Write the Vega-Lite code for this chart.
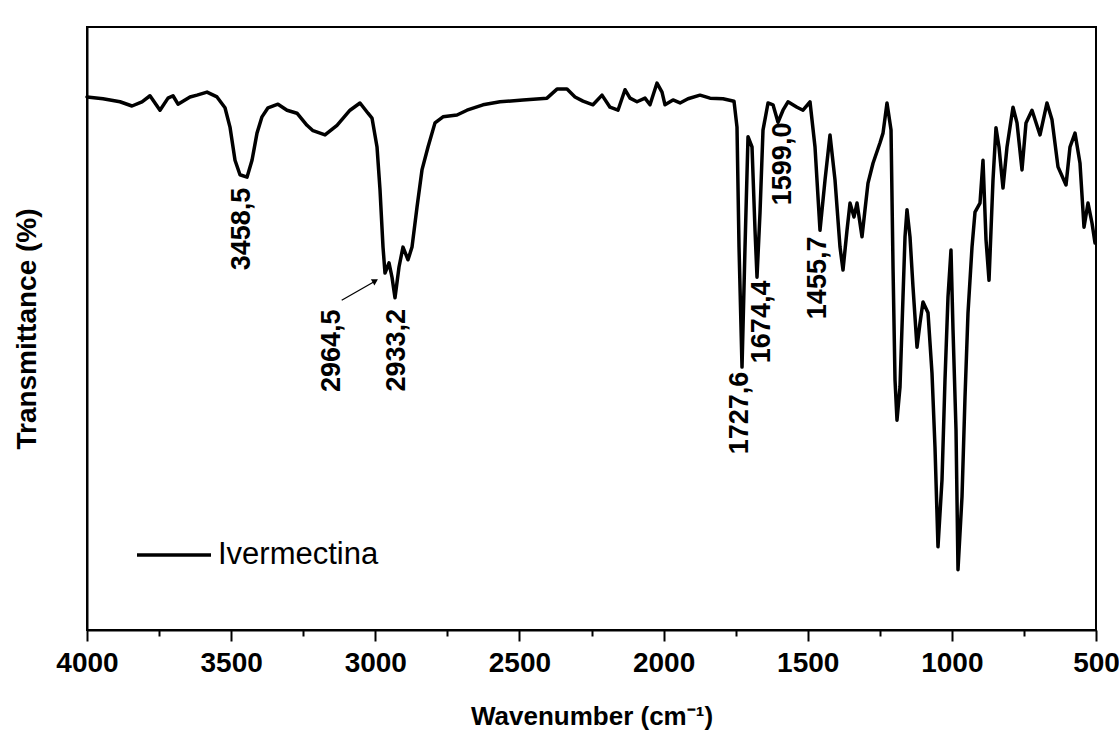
{
  "$schema": "https://vega.github.io/schema/vega-lite/v6.json",
  "width": 1009,
  "height": 603,
  "autosize": {"type": "none"},
  "padding": {"left": 87, "top": 27, "right": 23, "bottom": 112},
  "background": "white",
  "config": {
    "view": {"stroke": "black", "strokeWidth": 2},
    "font": "Liberation Sans"
  },
  "datasets": {
    "spectrum": [
      {"wavenumber": 4000, "transmittance": 88.4},
      {"wavenumber": 3944.5, "transmittance": 88.1},
      {"wavenumber": 3885.5, "transmittance": 87.6},
      {"wavenumber": 3843.9, "transmittance": 86.9},
      {"wavenumber": 3809.2, "transmittance": 87.6},
      {"wavenumber": 3781.5, "transmittance": 88.6},
      {"wavenumber": 3746.8, "transmittance": 86.2},
      {"wavenumber": 3719.0, "transmittance": 88.2},
      {"wavenumber": 3701.7, "transmittance": 88.6},
      {"wavenumber": 3684.3, "transmittance": 87.2},
      {"wavenumber": 3642.7, "transmittance": 88.4},
      {"wavenumber": 3618.4, "transmittance": 88.7},
      {"wavenumber": 3583.7, "transmittance": 89.2},
      {"wavenumber": 3549.1, "transmittance": 88.4},
      {"wavenumber": 3521.3, "transmittance": 86.6},
      {"wavenumber": 3504.0, "transmittance": 83.4},
      {"wavenumber": 3486.6, "transmittance": 77.9},
      {"wavenumber": 3469.3, "transmittance": 75.5},
      {"wavenumber": 3445.0, "transmittance": 75.1},
      {"wavenumber": 3427.6, "transmittance": 77.9},
      {"wavenumber": 3410.3, "transmittance": 82.4},
      {"wavenumber": 3393.0, "transmittance": 85.1},
      {"wavenumber": 3372.1, "transmittance": 86.6},
      {"wavenumber": 3337.5, "transmittance": 87.2},
      {"wavenumber": 3306.2, "transmittance": 86.2},
      {"wavenumber": 3271.6, "transmittance": 85.7},
      {"wavenumber": 3236.9, "transmittance": 83.7},
      {"wavenumber": 3216.0, "transmittance": 82.8},
      {"wavenumber": 3174.4, "transmittance": 82.1},
      {"wavenumber": 3132.8, "transmittance": 83.7},
      {"wavenumber": 3087.7, "transmittance": 86.2},
      {"wavenumber": 3053.0, "transmittance": 87.4},
      {"wavenumber": 3025.3, "transmittance": 85.7},
      {"wavenumber": 3011.4, "transmittance": 84.9},
      {"wavenumber": 2994.0, "transmittance": 80.1},
      {"wavenumber": 2983.6, "transmittance": 73.0},
      {"wavenumber": 2973.2, "transmittance": 63.5},
      {"wavenumber": 2966.3, "transmittance": 59.2},
      {"wavenumber": 2952.4, "transmittance": 60.9},
      {"wavenumber": 2942.0, "transmittance": 58.5},
      {"wavenumber": 2931.6, "transmittance": 55.1},
      {"wavenumber": 2917.7, "transmittance": 60.2},
      {"wavenumber": 2903.9, "transmittance": 63.5},
      {"wavenumber": 2886.5, "transmittance": 61.4},
      {"wavenumber": 2872.6, "transmittance": 63.5},
      {"wavenumber": 2855.3, "transmittance": 70.1},
      {"wavenumber": 2838.0, "transmittance": 76.3},
      {"wavenumber": 2817.1, "transmittance": 80.1},
      {"wavenumber": 2792.9, "transmittance": 84.1},
      {"wavenumber": 2765.1, "transmittance": 85.1},
      {"wavenumber": 2716.5, "transmittance": 85.4},
      {"wavenumber": 2681.9, "transmittance": 86.2},
      {"wavenumber": 2626.4, "transmittance": 87.1},
      {"wavenumber": 2567.4, "transmittance": 87.6},
      {"wavenumber": 2487.6, "transmittance": 87.9},
      {"wavenumber": 2404.4, "transmittance": 88.2},
      {"wavenumber": 2369.7, "transmittance": 89.7},
      {"wavenumber": 2335.0, "transmittance": 89.7},
      {"wavenumber": 2307.2, "transmittance": 88.4},
      {"wavenumber": 2279.5, "transmittance": 87.7},
      {"wavenumber": 2244.8, "transmittance": 87.1},
      {"wavenumber": 2213.6, "transmittance": 88.7},
      {"wavenumber": 2185.8, "transmittance": 86.7},
      {"wavenumber": 2158.1, "transmittance": 86.2},
      {"wavenumber": 2133.8, "transmittance": 89.6},
      {"wavenumber": 2116.4, "transmittance": 88.2},
      {"wavenumber": 2092.2, "transmittance": 87.6},
      {"wavenumber": 2064.4, "transmittance": 88.2},
      {"wavenumber": 2047.1, "transmittance": 87.1},
      {"wavenumber": 2022.8, "transmittance": 90.7},
      {"wavenumber": 2005.4, "transmittance": 89.2},
      {"wavenumber": 1995.0, "transmittance": 87.1},
      {"wavenumber": 1967.3, "transmittance": 87.9},
      {"wavenumber": 1943.0, "transmittance": 87.4},
      {"wavenumber": 1915.2, "transmittance": 88.1},
      {"wavenumber": 1873.6, "transmittance": 88.7},
      {"wavenumber": 1838.9, "transmittance": 88.2},
      {"wavenumber": 1793.8, "transmittance": 88.1},
      {"wavenumber": 1755.7, "transmittance": 87.7},
      {"wavenumber": 1745.3, "transmittance": 83.4},
      {"wavenumber": 1738.3, "transmittance": 63.5},
      {"wavenumber": 1727.9, "transmittance": 43.6},
      {"wavenumber": 1717.5, "transmittance": 63.5},
      {"wavenumber": 1707.1, "transmittance": 81.8},
      {"wavenumber": 1693.2, "transmittance": 80.1},
      {"wavenumber": 1682.8, "transmittance": 66.3},
      {"wavenumber": 1675.9, "transmittance": 58.5},
      {"wavenumber": 1665.5, "transmittance": 69.2},
      {"wavenumber": 1655.1, "transmittance": 82.9},
      {"wavenumber": 1637.7, "transmittance": 87.4},
      {"wavenumber": 1620.4, "transmittance": 87.1},
      {"wavenumber": 1603.0, "transmittance": 84.2},
      {"wavenumber": 1585.7, "transmittance": 86.2},
      {"wavenumber": 1568.4, "transmittance": 87.6},
      {"wavenumber": 1537.2, "transmittance": 86.7},
      {"wavenumber": 1516.3, "transmittance": 86.2},
      {"wavenumber": 1492.1, "transmittance": 87.6},
      {"wavenumber": 1474.7, "transmittance": 80.1},
      {"wavenumber": 1457.4, "transmittance": 66.3},
      {"wavenumber": 1440.0, "transmittance": 74.6},
      {"wavenumber": 1422.7, "transmittance": 82.1},
      {"wavenumber": 1405.3, "transmittance": 74.6},
      {"wavenumber": 1388.0, "transmittance": 63.5},
      {"wavenumber": 1377.6, "transmittance": 59.7},
      {"wavenumber": 1363.7, "transmittance": 66.3},
      {"wavenumber": 1353.3, "transmittance": 70.8},
      {"wavenumber": 1339.4, "transmittance": 68.5},
      {"wavenumber": 1329.0, "transmittance": 70.8},
      {"wavenumber": 1311.7, "transmittance": 65.2},
      {"wavenumber": 1301.3, "transmittance": 69.7},
      {"wavenumber": 1290.9, "transmittance": 74.1},
      {"wavenumber": 1273.5, "transmittance": 77.4},
      {"wavenumber": 1249.2, "transmittance": 80.8},
      {"wavenumber": 1238.8, "transmittance": 82.4},
      {"wavenumber": 1225.0, "transmittance": 87.4},
      {"wavenumber": 1211.0, "transmittance": 82.9},
      {"wavenumber": 1204.1, "transmittance": 60.2},
      {"wavenumber": 1197.2, "transmittance": 41.5},
      {"wavenumber": 1190.3, "transmittance": 34.8},
      {"wavenumber": 1179.9, "transmittance": 40.3},
      {"wavenumber": 1169.5, "transmittance": 55.2},
      {"wavenumber": 1162.5, "transmittance": 65.2},
      {"wavenumber": 1155.6, "transmittance": 69.7},
      {"wavenumber": 1145.2, "transmittance": 65.2},
      {"wavenumber": 1134.8, "transmittance": 56.9},
      {"wavenumber": 1120.9, "transmittance": 46.9},
      {"wavenumber": 1110.5, "transmittance": 50.9},
      {"wavenumber": 1100.1, "transmittance": 54.4},
      {"wavenumber": 1082.7, "transmittance": 52.6},
      {"wavenumber": 1068.9, "transmittance": 42.6},
      {"wavenumber": 1058.5, "transmittance": 30.3},
      {"wavenumber": 1048.1, "transmittance": 13.8},
      {"wavenumber": 1034.2, "transmittance": 24.9},
      {"wavenumber": 1023.8, "transmittance": 41.5},
      {"wavenumber": 1013.4, "transmittance": 55.2},
      {"wavenumber": 1003.0, "transmittance": 63.0},
      {"wavenumber": 996.0, "transmittance": 49.8},
      {"wavenumber": 985.6, "transmittance": 33.2},
      {"wavenumber": 978.7, "transmittance": 10.0},
      {"wavenumber": 964.8, "transmittance": 22.1},
      {"wavenumber": 954.4, "transmittance": 38.6},
      {"wavenumber": 944.0, "transmittance": 52.6},
      {"wavenumber": 930.1, "transmittance": 63.5},
      {"wavenumber": 919.7, "transmittance": 69.3},
      {"wavenumber": 902.4, "transmittance": 70.8},
      {"wavenumber": 892.0, "transmittance": 77.9},
      {"wavenumber": 881.5, "transmittance": 64.7},
      {"wavenumber": 871.1, "transmittance": 58.0},
      {"wavenumber": 857.3, "transmittance": 74.6},
      {"wavenumber": 846.9, "transmittance": 83.3},
      {"wavenumber": 836.5, "transmittance": 80.1},
      {"wavenumber": 822.6, "transmittance": 73.3},
      {"wavenumber": 808.7, "transmittance": 80.1},
      {"wavenumber": 787.9, "transmittance": 86.7},
      {"wavenumber": 774.0, "transmittance": 84.1},
      {"wavenumber": 756.7, "transmittance": 76.3},
      {"wavenumber": 742.8, "transmittance": 84.1},
      {"wavenumber": 722.0, "transmittance": 86.2},
      {"wavenumber": 694.2, "transmittance": 82.1},
      {"wavenumber": 670.0, "transmittance": 87.4},
      {"wavenumber": 652.6, "transmittance": 84.6},
      {"wavenumber": 631.8, "transmittance": 76.8},
      {"wavenumber": 604.0, "transmittance": 73.8},
      {"wavenumber": 590.2, "transmittance": 80.1},
      {"wavenumber": 572.8, "transmittance": 82.4},
      {"wavenumber": 555.5, "transmittance": 77.4},
      {"wavenumber": 541.6, "transmittance": 66.8},
      {"wavenumber": 527.7, "transmittance": 70.8},
      {"wavenumber": 513.9, "transmittance": 67.5},
      {"wavenumber": 503.4, "transmittance": 64.2}
    ],
    "peaks": [
      {"label": "3458,5", "wavenumber": 3462.3, "transmittance": 66.5},
      {"label": "2964,5", "wavenumber": 3150.0, "transmittance": 46.3},
      {"label": "2933,2", "wavenumber": 2924.7, "transmittance": 46.4},
      {"label": "1727,6", "wavenumber": 1734.9, "transmittance": 36.0},
      {"label": "1674,4", "wavenumber": 1658.6, "transmittance": 51.1},
      {"label": "1599,0", "wavenumber": 1587.4, "transmittance": 77.3},
      {"label": "1455,7", "wavenumber": 1464.3, "transmittance": 58.4}
    ],
    "arrow": [
      {"fromX": 3116.5, "fromY": 54.7, "toX": 2995.1, "toY": 58.0, "headX": 3000, "headY": 57.9}
    ]
  },
  "layer": [
    {
      "data": {"name": "spectrum"},
      "mark": {"type": "line", "strokeWidth": 3.5, "strokeJoin": "round", "strokeCap": "round"},
      "encoding": {
        "x": {
          "field": "wavenumber",
          "type": "quantitative",
          "scale": {"domain": [500, 4000], "reverse": true, "nice": false, "zero": false},
          "axis": {
            "title": "Wavenumber (cm⁻¹)",
            "values": [4000, 3750, 3500, 3250, 3000, 2750, 2500, 2250, 2000, 1750, 1500, 1250, 1000, 750, 500],
            "format": "d",
            "labelExpr": "datum.value % 500 === 0 ? datum.label : ''",
            "tickSize": {"condition": {"test": "datum.value % 500 === 0", "value": 11}, "value": 6},
            "tickWidth": 2,
            "tickColor": "black",
            "domainColor": "black",
            "domainWidth": 2,
            "grid": false,
            "labelFont": "Liberation Sans",
            "labelFontSize": 28,
            "labelFontWeight": "bold",
            "labelColor": "black",
            "labelPadding": 8,
            "labelFlush": false,
            "labelOverlap": false,
            "titleFont": "Liberation Sans",
            "titleFontSize": 26,
            "titleFontWeight": "bold",
            "titleColor": "black",
            "titleBaseline": "top",
            "titleY": 73
          }
        },
        "y": {
          "field": "transmittance",
          "type": "quantitative",
          "scale": {"domain": [0, 100], "nice": false, "zero": false},
          "axis": {
            "title": "Transmittance (%)",
            "labels": false,
            "ticks": false,
            "grid": false,
            "domainColor": "black",
            "domainWidth": 2,
            "titleFont": "Liberation Sans",
            "titleFontSize": 28,
            "titleFontWeight": "bold",
            "titleColor": "black",
            "titleBaseline": "middle",
            "titleX": -60
          }
        },
        "color": {
          "datum": "Ivermectina",
          "type": "nominal",
          "scale": {"range": ["black"]},
          "legend": {
            "title": null,
            "orient": "none",
            "legendX": 48,
            "legendY": 489,
            "symbolType": "stroke",
            "symbolSize": 5476,
            "symbolStrokeWidth": 3.5,
            "symbolStrokeColor": "black",
            "labelFont": "Liberation Sans",
            "labelFontSize": 31,
            "labelColor": "black",
            "labelOffset": 5,
            "labelLimit": 0
          }
        }
      }
    },
    {
      "data": {"name": "arrow"},
      "mark": {"type": "rule", "strokeWidth": 1.2, "color": "black"},
      "encoding": {
        "x": {"field": "fromX", "type": "quantitative"},
        "y": {"field": "fromY", "type": "quantitative"},
        "x2": {"field": "toX"},
        "y2": {"field": "toY"}
      }
    },
    {
      "data": {"name": "arrow"},
      "mark": {"type": "point", "shape": "triangle-right", "filled": true, "color": "black", "opacity": 1, "size": 50, "angle": 330},
      "encoding": {
        "x": {"field": "headX", "type": "quantitative"},
        "y": {"field": "headY", "type": "quantitative"}
      }
    },
    {
      "data": {"name": "peaks"},
      "mark": {"type": "text", "angle": 270, "fontSize": 27, "fontWeight": "bold", "font": "Liberation Sans", "align": "center", "baseline": "middle", "color": "black"},
      "encoding": {
        "x": {"field": "wavenumber", "type": "quantitative"},
        "y": {"field": "transmittance", "type": "quantitative"},
        "text": {"field": "label"}
      }
    }
  ]
}
